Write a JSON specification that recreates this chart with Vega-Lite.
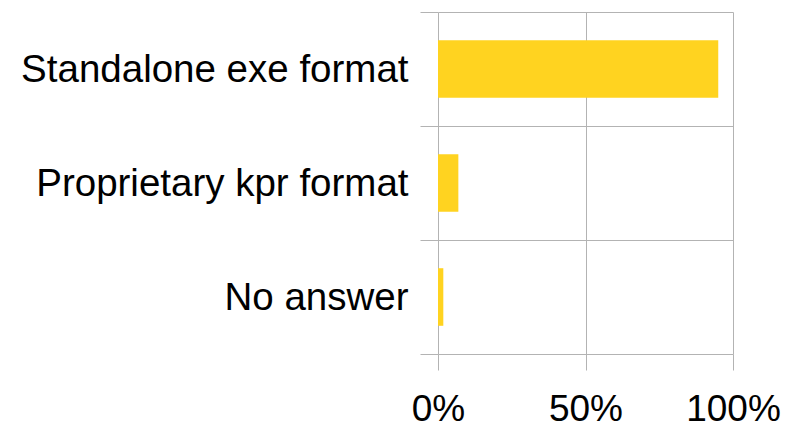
{
  "$schema": "https://vega.github.io/schema/vega-lite/v6.json",
  "autosize": "none",
  "padding": {"left": 438, "top": 12, "right": 68, "bottom": 71},
  "width": 295,
  "height": 342,
  "background": "white",
  "data": {
    "values": [
      {"answer": "Standalone exe format", "share": 0.95},
      {"answer": "Proprietary kpr format", "share": 0.069},
      {"answer": "No answer", "share": 0.018}
    ]
  },
  "mark": {"type": "bar", "color": "#ffd320", "height": {"band": 0.505}},
  "encoding": {
    "y": {
      "field": "answer",
      "type": "nominal",
      "sort": null,
      "scale": {"paddingInner": 0, "paddingOuter": 0},
      "axis": {
        "title": null,
        "domain": false,
        "grid": true,
        "gridColor": "#b3b3b3",
        "gridOpacity": 1,
        "tickBand": "extent",
        "tickColor": "#b3b3b3",
        "tickSize": 18,
        "labelFont": "Liberation Sans",
        "labelFontSize": 38.5,
        "labelColor": "#000000",
        "labelPadding": 12,
        "labelLimit": 0
      }
    },
    "x": {
      "field": "share",
      "type": "quantitative",
      "scale": {"domain": [0, 1], "nice": false},
      "axis": {
        "title": null,
        "domain": false,
        "values": [0, 0.5, 1],
        "format": ".0%",
        "grid": true,
        "gridColor": "#b3b3b3",
        "gridOpacity": 1,
        "tickColor": "#b3b3b3",
        "tickSize": 16,
        "labelFont": "Liberation Sans",
        "labelFontSize": 37,
        "labelColor": "#000000",
        "labelPadding": 21,
        "labelFlush": false
      }
    }
  },
  "config": {"view": {"stroke": null}}
}
